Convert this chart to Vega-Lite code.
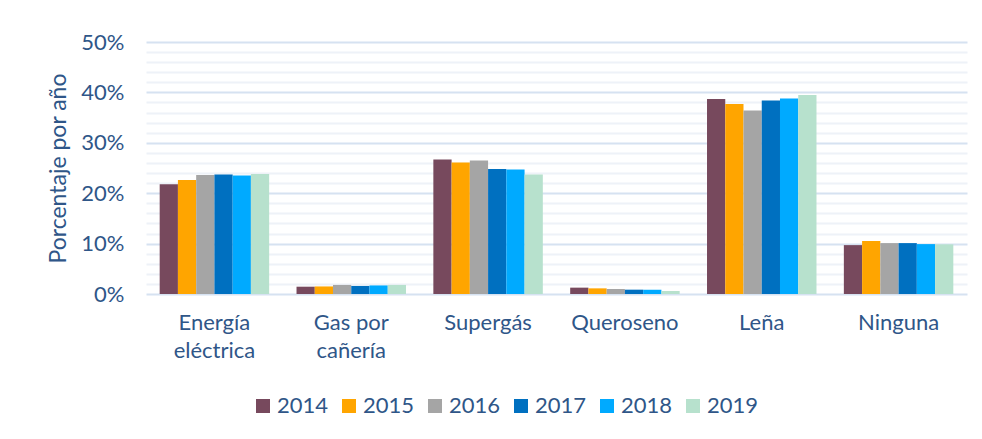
{
  "$schema": "https://vega.github.io/schema/vega-lite/v6.json",
  "autosize": {"type": "none"},
  "padding": {"left": 146, "top": 42, "right": 15, "bottom": 145},
  "width": 821,
  "height": 252,
  "background": "white",
  "config": {
    "view": {"stroke": null},
    "font": "Lato",
    "axis": {"labelColor": "#2F5688", "titleColor": "#2F5688", "labelFont": "Lato", "titleFont": "Lato"},
    "legend": {"labelColor": "#2F5688", "labelFont": "Lato"}
  },
  "data": {
    "values": [
      {"fuente": "Energía eléctrica", "anio": "2014", "valor": 0.218},
      {"fuente": "Energía eléctrica", "anio": "2015", "valor": 0.226},
      {"fuente": "Energía eléctrica", "anio": "2016", "valor": 0.236},
      {"fuente": "Energía eléctrica", "anio": "2017", "valor": 0.237},
      {"fuente": "Energía eléctrica", "anio": "2018", "valor": 0.235},
      {"fuente": "Energía eléctrica", "anio": "2019", "valor": 0.238},
      {"fuente": "Gas por cañería", "anio": "2014", "valor": 0.0145},
      {"fuente": "Gas por cañería", "anio": "2015", "valor": 0.015},
      {"fuente": "Gas por cañería", "anio": "2016", "valor": 0.018},
      {"fuente": "Gas por cañería", "anio": "2017", "valor": 0.016},
      {"fuente": "Gas por cañería", "anio": "2018", "valor": 0.017},
      {"fuente": "Gas por cañería", "anio": "2019", "valor": 0.018},
      {"fuente": "Supergás", "anio": "2014", "valor": 0.267},
      {"fuente": "Supergás", "anio": "2015", "valor": 0.261},
      {"fuente": "Supergás", "anio": "2016", "valor": 0.265},
      {"fuente": "Supergás", "anio": "2017", "valor": 0.248},
      {"fuente": "Supergás", "anio": "2018", "valor": 0.247},
      {"fuente": "Supergás", "anio": "2019", "valor": 0.237},
      {"fuente": "Queroseno", "anio": "2014", "valor": 0.0126},
      {"fuente": "Queroseno", "anio": "2015", "valor": 0.0112},
      {"fuente": "Queroseno", "anio": "2016", "valor": 0.0099},
      {"fuente": "Queroseno", "anio": "2017", "valor": 0.0086},
      {"fuente": "Queroseno", "anio": "2018", "valor": 0.0086},
      {"fuente": "Queroseno", "anio": "2019", "valor": 0.006},
      {"fuente": "Leña", "anio": "2014", "valor": 0.387},
      {"fuente": "Leña", "anio": "2015", "valor": 0.377},
      {"fuente": "Leña", "anio": "2016", "valor": 0.364},
      {"fuente": "Leña", "anio": "2017", "valor": 0.384},
      {"fuente": "Leña", "anio": "2018", "valor": 0.388},
      {"fuente": "Leña", "anio": "2019", "valor": 0.395},
      {"fuente": "Ninguna", "anio": "2014", "valor": 0.097},
      {"fuente": "Ninguna", "anio": "2015", "valor": 0.105},
      {"fuente": "Ninguna", "anio": "2016", "valor": 0.101},
      {"fuente": "Ninguna", "anio": "2017", "valor": 0.101},
      {"fuente": "Ninguna", "anio": "2018", "valor": 0.099},
      {"fuente": "Ninguna", "anio": "2019", "valor": 0.0985}
    ]
  },
  "mark": {"type": "bar"},
  "encoding": {
    "x": {
      "field": "fuente",
      "type": "nominal",
      "sort": null,
      "scale": {"paddingInner": 0.2, "paddingOuter": 0.1},
      "axis": {
        "title": null,
        "labelAngle": 0,
        "labelFontSize": 22,
        "labelPadding": 18,
        "labelLineHeight": 28,
        "ticks": false,
        "domain": false,
        "labelExpr": "datum.value == 'Energía eléctrica' ? ['Energía', 'eléctrica'] : datum.value == 'Gas por cañería' ? ['Gas por', 'cañería'] : datum.label"
      }
    },
    "xOffset": {"field": "anio", "type": "nominal", "scale": {"paddingInner": 0, "paddingOuter": 0}},
    "y": {
      "field": "valor",
      "type": "quantitative",
      "scale": {"domain": [0, 0.5], "nice": false},
      "axis": {
        "title": "Porcentaje por año",
        "titleFontSize": 23,
        "titleFontWeight": "normal",
        "titlePadding": 10,
        "format": ".0%",
        "values": [0, 0.02, 0.04, 0.06, 0.08, 0.1, 0.12, 0.14, 0.16, 0.18, 0.2, 0.22, 0.24, 0.26, 0.28, 0.3, 0.32, 0.34, 0.36, 0.38, 0.4, 0.42, 0.44, 0.46, 0.48, 0.5],
        "labelExpr": "round(datum.value * 100) % 10 == 0 ? datum.label : ''",
        "labelFontSize": 22,
        "labelPadding": 22,
        "ticks": false,
        "domain": false,
        "grid": true,
        "gridColor": {"condition": {"test": "round(datum.value * 100) % 10 == 0", "value": "#D6E2F1"}, "value": "#EEF2F8"},
        "gridWidth": 2
      }
    },
    "color": {
      "field": "anio",
      "type": "nominal",
      "scale": {
        "domain": ["2014", "2015", "2016", "2017", "2018", "2019"],
        "range": ["#77495D", "#FFA500", "#A5A5A5", "#0070C0", "#00AAFF", "#B7E1CD"]
      },
      "legend": {
        "title": null,
        "orient": "none",
        "direction": "horizontal",
        "legendX": 106,
        "legendY": 353,
        "symbolType": "square",
        "symbolSize": 196,
        "symbolStrokeWidth": 0,
        "labelFontSize": 22,
        "labelOffset": 3,
        "columnPadding": 9
      }
    }
  }
}
